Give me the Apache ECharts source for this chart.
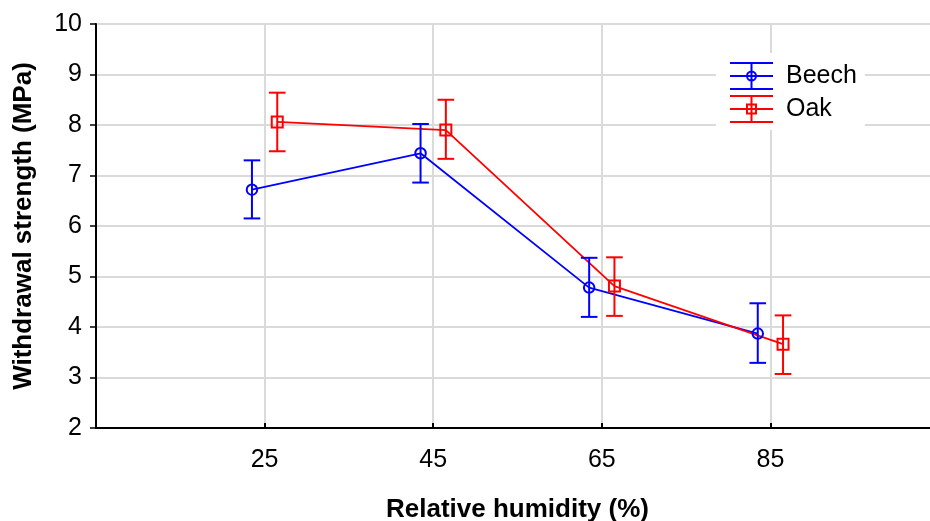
<!DOCTYPE html>
<html><head><meta charset="utf-8">
<script src="https://cdn.jsdelivr.net/npm/echarts@6/dist/echarts.min.js"></script>
<style>html,body{margin:0;padding:0;background:#fff}#c{width:930px;height:521px}</style>
</head><body><div id="c"></div>
<script>
// ---- data ----
const humidity = [25, 45, 65, 85];
const beechMean = [6.72, 7.44, 4.78, 3.87];
const beechLow  = [6.15, 6.86, 4.20, 3.29];
const beechHigh = [7.30, 8.02, 5.37, 4.47];
const oakMean = [8.06, 7.90, 4.81, 3.66];
const oakLow  = [7.48, 7.33, 4.22, 3.07];
const oakHigh = [8.64, 8.50, 5.38, 4.23];

// ---- style ----
const FONT = '"Liberation Sans", Arial, sans-serif';
const BLUE = '#0000ff', RED = '#ff0000';
const dodge = 1.5; // horizontal separation of the two groups (x units)

const beechX = humidity.map(h => h - dodge);
const oakX = humidity.map(h => h + dodge);

function errRender(color) {
  return function (params, api) {
    const x = api.value(0), lo = api.value(1), hi = api.value(2);
    const a = api.coord([x, hi]), b = api.coord([x, lo]);
    const hw = 8.3;
    const st = { stroke: color, lineWidth: 2, fill: null };
    return { type: 'group', children: [
      { type: 'line', shape: { x1: a[0], y1: a[1], x2: b[0], y2: b[1] }, style: st },
      { type: 'line', shape: { x1: a[0] - hw, y1: a[1], x2: a[0] + hw, y2: a[1] }, style: st },
      { type: 'line', shape: { x1: b[0] - hw, y1: b[1], x2: b[0] + hw, y2: b[1] }, style: st }
    ]};
  };
}

const bars = 'M0,0H43V2H0Z M0,13H43V15H0Z M0,26H43V28H0Z M20.5,0H22.5V28H20.5Z ';
const beechIcon = 'path://' + bars + 'M27,14A5.5,5.5 0 1 1 16,14A5.5,5.5 0 1 1 27,14Z M25,14A3.5,3.5 0 1 0 18,14A3.5,3.5 0 1 0 25,14Z';
const oakIcon = 'path://' + bars + 'M16,8.5H27V19.5H16Z M18,10.5V17.5H25V10.5Z';

const chart = echarts.init(document.getElementById('c'), null, { renderer: 'canvas' });
chart.setOption({
  animation: false,
  backgroundColor: '#fff',
  textStyle: { fontFamily: FONT },
  grid: { left: 96, top: 24, right: -9, bottom: 93, outerBoundsMode: 'none', containLabel: false,
          show: true, borderColor: '#000', borderWidth: 2, backgroundColor: 'transparent' },
  legend: {
    orient: 'vertical', left: 716, top: 53,
    backgroundColor: '#fff',
    padding: [9, 8, 7, 14],
    itemWidth: 43, itemHeight: 28, itemGap: 5,
    textStyle: { fontFamily: FONT, fontSize: 25, color: '#000', padding: [0, 0, 0, 8] },
    data: [
      { name: 'Beech', icon: beechIcon, itemStyle: { color: BLUE, borderWidth: 0 } },
      { name: 'Oak', icon: oakIcon, itemStyle: { color: RED, borderWidth: 0 } }
    ]
  },
  xAxis: {
    type: 'value', min: 5, max: 105,
    axisLine: { show: true, onZero: false, lineStyle: { color: '#000', width: 2 } },
    axisTick: { show: true, inside: true, length: 5, customValues: humidity, lineStyle: { color: '#000', width: 2 } },
    axisLabel: { customValues: humidity, margin: 20, fontSize: 25, color: '#000', fontFamily: FONT },
    splitLine: { show: true, lineStyle: { color: '#dadada', width: 2 } },
    name: 'Relative humidity (%)', nameLocation: 'middle', nameGap: 69,
    nameTextStyle: { fontWeight: 'bold', fontSize: 26, color: '#000', fontFamily: FONT }
  },
  yAxis: {
    type: 'value', min: 2, max: 10, interval: 1,
    axisLine: { show: true, lineStyle: { color: '#000', width: 2 } },
    axisTick: { show: true, length: 6, lineStyle: { color: '#000', width: 1.5 } },
    axisLabel: { margin: 14, fontSize: 25, color: '#000', fontFamily: FONT },
    splitLine: { show: true, lineStyle: { color: '#dadada', width: 2 } },
    name: 'Withdrawal strength (MPa)', nameLocation: 'middle', nameGap: 59, nameRotate: 90,
    nameTextStyle: { fontWeight: 'bold', fontSize: 26, color: '#000', fontFamily: FONT }
  },
  series: [
    { name: 'Beech', type: 'line', z: 3,
      data: beechX.map((x, i) => [x, beechMean[i]]),
      symbol: 'circle', symbolSize: 10.5,
      lineStyle: { color: BLUE, width: 1.8 },
      itemStyle: { color: 'rgba(0,0,0,0)', borderColor: BLUE, borderWidth: 2 } },
    { name: 'Oak', type: 'line', z: 3,
      data: oakX.map((x, i) => [x, oakMean[i]]),
      symbol: 'rect', symbolSize: 11,
      lineStyle: { color: RED, width: 1.8 },
      itemStyle: { color: 'rgba(0,0,0,0)', borderColor: RED, borderWidth: 2 } },
    { name: 'Beech', type: 'custom', z: 4, renderItem: errRender(BLUE),
      encode: { x: 0, y: [1, 2] },
      data: beechX.map((x, i) => [x, beechLow[i], beechHigh[i]]) },
    { name: 'Oak', type: 'custom', z: 4, renderItem: errRender(RED),
      encode: { x: 0, y: [1, 2] },
      data: oakX.map((x, i) => [x, oakLow[i], oakHigh[i]]) }
  ]
});
</script>
</body></html>
